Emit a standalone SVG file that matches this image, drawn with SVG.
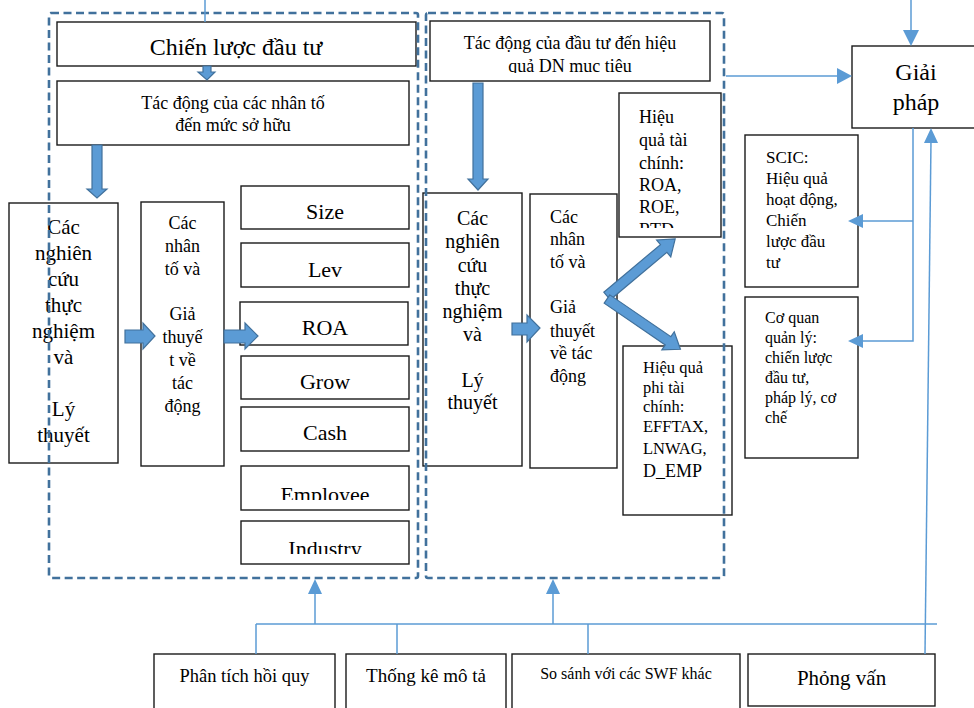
<svg xmlns="http://www.w3.org/2000/svg" width="974" height="708" viewBox="0 0 974 708" font-family="Liberation Serif, Times New Roman, serif">
<style>
.box{fill:#fff;stroke:#1a1a1a;stroke-width:1.4}
.grp{fill:none;stroke:#41719C;stroke-width:2.6;stroke-dasharray:8 4.5}
.ln{fill:none;stroke:#5B9BD5;stroke-width:1.5}
.ah{fill:#5B9BD5}
.blk{fill:#5B9BD5;stroke:#41719C;stroke-width:1.2}
text{fill:#000;font-family:"Liberation Serif","Times New Roman",serif}
.c{text-anchor:middle}
</style>
<defs>
<clipPath id="cl1"><rect x="430" y="20" width="280" height="53"/></clipPath>
<clipPath id="cl2"><rect x="619" y="93" width="102" height="135"/></clipPath>
<clipPath id="cl3"><rect x="241" y="466" width="168" height="34"/></clipPath>
<clipPath id="cl4"><rect x="241" y="521" width="168" height="33"/></clipPath>
</defs>
<rect width="974" height="708" fill="#fff"/>

<g id="chien-luoc">
<rect class="box" x="57" y="22" width="359" height="44"/>
<text class="c" x="236" y="55" font-size="24">Chiến lược đầu tư</text>
</g>
<g id="tac-dong-nhan-to">
<rect class="box" x="57" y="81" width="352" height="64"/>
<text class="c" x="233" y="109" font-size="18">Tác động của các nhân tố</text>
<text class="c" x="233" y="131" font-size="18">đến mức sở hữu</text>
</g>
<g id="nghien-cuu-1">
<rect class="box" x="9" y="203" width="109" height="260"/>
<text class="c" font-size="21"><tspan x="63.5" y="234">Các</tspan><tspan x="63.5" y="260">nghiên</tspan><tspan x="63.5" y="286">cứu</tspan><tspan x="63.5" y="312">thực</tspan><tspan x="63.5" y="338">nghiệm</tspan><tspan x="63.5" y="364">và</tspan><tspan x="63.5" y="416">Lý</tspan><tspan x="63.5" y="442">thuyết</tspan></text>
</g>
<g id="nhan-to-1">
<rect class="box" x="141" y="202" width="83" height="264"/>
<text class="c" font-size="18"><tspan x="182.5" y="229">Các</tspan><tspan x="182.5" y="252">nhân</tspan><tspan x="182.5" y="275">tố và</tspan><tspan x="182.5" y="320">Giả</tspan><tspan x="182.5" y="343">thuyế</tspan><tspan x="182.5" y="366">t về</tspan><tspan x="182.5" y="389">tác</tspan><tspan x="182.5" y="412">động</tspan></text>
</g>
<g id="size"><rect class="box" x="241" y="186" width="168" height="43"/><text class="c" x="325" y="219" font-size="22">Size</text></g>
<g id="lev"><rect class="box" x="241" y="243" width="168" height="44"/><text class="c" x="325" y="277" font-size="22">Lev</text></g>
<g id="roa"><rect class="box" x="240" y="302" width="168" height="43"/><text class="c" x="325" y="335" font-size="22">ROA</text></g>
<g id="grow"><rect class="box" x="241" y="356" width="168" height="43"/><text class="c" x="325" y="389" font-size="22">Grow</text></g>
<g id="cash"><rect class="box" x="241" y="407" width="168" height="44"/><text class="c" x="325" y="440" font-size="22">Cash</text></g>
<g id="employee"><rect class="box" x="241" y="466" width="168" height="44"/><text class="c" x="325" y="502" font-size="22" clip-path="url(#cl3)">Employee</text></g>
<g id="industry"><rect class="box" x="241" y="521" width="168" height="43"/><text class="c" x="325" y="556" font-size="22" clip-path="url(#cl4)">Industry</text></g>

<g id="tac-dong-dau-tu">
<rect class="box" x="430" y="21" width="280" height="60"/>
<text class="c" x="570" y="49" font-size="18">Tác động của đầu tư đến hiệu</text>
<text class="c" x="570" y="72" font-size="18" clip-path="url(#cl1)">quả DN mục tiêu</text>
</g>
<g id="nghien-cuu-2">
<rect class="box" x="423" y="193" width="99" height="273"/>
<text class="c" font-size="20"><tspan x="472.5" y="225">Các</tspan><tspan x="472.5" y="248">nghiên</tspan><tspan x="472.5" y="272">cứu</tspan><tspan x="472.5" y="295">thực</tspan><tspan x="472.5" y="318">nghiệm</tspan><tspan x="472.5" y="341">và</tspan><tspan x="472.5" y="387">Lý</tspan><tspan x="472.5" y="409">thuyết</tspan></text>
</g>
<g id="nhan-to-2">
<rect class="box" x="530" y="194" width="87" height="274"/>
<text font-size="18"><tspan x="550" y="223">Các</tspan><tspan x="550" y="245">nhân</tspan><tspan x="550" y="268">tố và</tspan><tspan x="550" y="313">Giả</tspan><tspan x="550" y="337">thuyết</tspan><tspan x="550" y="359">về tác</tspan><tspan x="550" y="382">động</tspan></text>
</g>
<g id="hieu-qua-tai-chinh">
<rect class="box" x="619" y="93" width="102" height="144"/>
<text font-size="18" clip-path="url(#cl2)"><tspan x="639" y="123">Hiệu</tspan><tspan x="639" y="146">quả tài</tspan><tspan x="639" y="169">chính:</tspan><tspan x="639" y="191">ROA,</tspan><tspan x="639" y="213">ROE,</tspan><tspan x="639" y="236">RTD</tspan></text>
</g>
<g id="hieu-qua-phi-tai-chinh">
<rect class="box" x="623" y="346" width="109" height="169"/>
<text font-size="16.5"><tspan x="643" y="373">Hiệu quả</tspan><tspan x="643" y="393">phi tài</tspan><tspan x="643" y="412">chính:</tspan><tspan x="643" y="432">EFFTAX,</tspan><tspan x="643" y="454">LNWAG,</tspan><tspan x="643" y="477" font-size="18">D_EMP</tspan></text>
</g>

<g id="giai-phap">
<rect class="box" x="852" y="46" width="130" height="82"/>
<text class="c" x="916" y="80" font-size="24">Giải</text>
<text class="c" x="916" y="110" font-size="24">pháp</text>
</g>
<g id="scic">
<rect class="box" x="745" y="135" width="113" height="152"/>
<text font-size="17"><tspan x="766" y="163">SCIC:</tspan><tspan x="766" y="184">Hiệu quả</tspan><tspan x="766" y="205">hoạt động,</tspan><tspan x="766" y="226">Chiến</tspan><tspan x="766" y="247">lược đầu</tspan><tspan x="766" y="268">tư</tspan></text>
</g>
<g id="co-quan">
<rect class="box" x="745" y="297" width="113" height="161"/>
<text font-size="16"><tspan x="765" y="323">Cơ quan</tspan><tspan x="765" y="343">quản lý:</tspan><tspan x="765" y="363">chiến lược</tspan><tspan x="765" y="383">đầu tư,</tspan><tspan x="765" y="403">pháp lý, cơ</tspan><tspan x="765" y="423">chế</tspan></text>
</g>

<g id="phan-tich"><rect class="box" x="154" y="654" width="181" height="60"/><text class="c" x="244.5" y="682" font-size="18.5">Phân tích hồi quy</text></g>
<g id="thong-ke"><rect class="box" x="346" y="654" width="160" height="60"/><text class="c" x="426" y="682" font-size="19">Thống kê mô tả</text></g>
<g id="so-sanh"><rect class="box" x="512" y="654" width="228" height="60"/><text class="c" x="626" y="679" font-size="16">So sánh với các SWF khác</text></g>
<g id="phong-van"><rect class="box" x="748" y="654" width="187" height="52"/><text class="c" x="841.5" y="685" font-size="21">Phỏng vấn</text></g>

<g id="nhom-1"><rect class="grp" x="49" y="13" width="369" height="565" rx="2"/></g>
<g id="nhom-2"><rect class="grp" x="426" y="13" width="298" height="565" rx="2"/></g>

<g id="connectors">
<polygon class="blk" points="203,66 211,66 211,72 215,72 207,80 198,72 203,72"/>
<polygon class="blk" points="92,145 102,145 102,189 107,189 97,198 87,189 92,189"/>
<polygon class="blk" points="473,83 483,83 483,179 488,179 478,190 468,179 473,179"/>
<polygon class="blk" points="125,330 143,330 143,323 155,336 143,349 143,343 125,343"/>
<polygon class="blk" points="224,330 245,330 245,323 258,336 245,349 245,343 224,343"/>
<polygon class="blk" points="512,323 527,323 527,315 540,328 527,342 527,335 512,335"/>
<polygon class="blk" transform="translate(607,296) rotate(-40)" points="0,-5 74,-5 74,-11 89,0 74,11 74,5 0,5"/>
<polygon class="blk" transform="translate(607,299) rotate(34.4)" points="0,-5 74,-5 74,-11 89,0 74,11 74,5 0,5"/>

<line class="ln" x1="205" y1="0" x2="205" y2="22"/>
<line class="ln" x1="911" y1="0" x2="911" y2="32"/>
<polygon class="ah" points="903,30 919,30 911,46"/>
<line class="ln" x1="726" y1="76" x2="840" y2="76"/>
<polygon class="ah" points="837,68 837,84 852,76"/>
<polyline class="ln" points="913,128 913,341 860,341"/>
<polygon class="ah" points="863,334 863,348 848,341"/>
<line class="ln" x1="913" y1="221" x2="860" y2="221"/>
<polygon class="ah" points="863,214 863,228 848,221"/>
<line class="ln" x1="925" y1="654" x2="931" y2="140"/>
<polygon class="ah" points="924,143 938,143 931,128"/>
<line class="ln" x1="256" y1="624" x2="937" y2="624"/>
<line class="ln" x1="256" y1="624" x2="256" y2="654"/>
<line class="ln" x1="397" y1="624" x2="397" y2="654"/>
<line class="ln" x1="588" y1="624" x2="588" y2="654"/>
<line class="ln" x1="315" y1="624" x2="315" y2="592"/>
<polygon class="ah" points="308,594 322,594 315,579"/>
<line class="ln" x1="553" y1="624" x2="553" y2="592"/>
<polygon class="ah" points="546,594 560,594 553,579"/>
</g>
</svg>
